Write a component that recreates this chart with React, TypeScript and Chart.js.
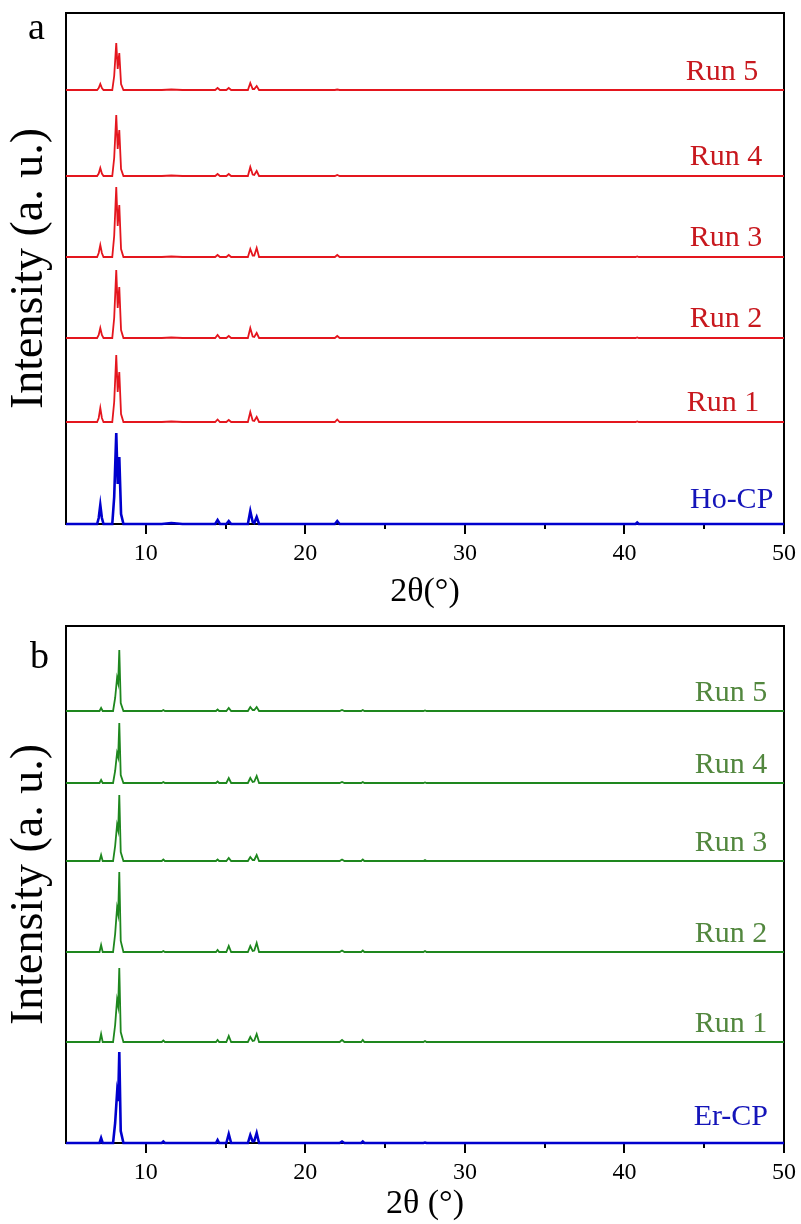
import React, { useEffect, useRef } from "react";
import { Chart, registerables } from "chart.js";

Chart.register(...registerables);

const FONT = "'Liberation Serif', 'Times New Roman', serif";

// x-axis ticks (2θ, degrees)
const xMajorTicks = [10, 20, 30, 40, 50];
const xMinorTicks = [15, 25, 35, 45];

// ---------- Panel a (Ho-CP) ----------
const thetaA = [5, 6.95, 7.05, 7.15, 7.25, 7.35, 7.9, 8.02, 8.15, 8.24, 8.34, 8.45, 8.6, 11.0, 11.6, 12.3, 14.35, 14.5, 14.65, 15.05, 15.2, 15.35, 16.4, 16.55, 16.7, 16.8, 16.95, 17.1, 21.85, 22.0, 22.15, 40.7, 40.8, 40.9, 50];
const hoCP = [0, 0, 6, 19, 6, 0, 0, 27, 91, 40, 67, 10, 0, 0, 1, 0, 0, 4, 0, 0, 3, 0, 0, 13, 2, 1, 7, 0, 0, 3, 0, 0, 1.5, 0, 0];
const hoRun1 = [0, 0, 4, 14, 4, 0, 0, 20, 67, 30, 50, 8, 0, 0, 0.5, 0, 0, 2.5, 0, 0, 2, 0, 0, 10, 1.5, 1, 5, 0, 0, 2.5, 0, 0, 0.5, 0, 0];
const hoRun2 = [0, 0, 3, 10, 3, 0, 0, 20, 68, 30, 51, 8, 0, 0, 0.5, 0, 0, 3, 0, 0, 2, 0, 0, 10, 1.5, 1, 5, 0, 0, 2, 0, 0, 0.5, 0, 0];
const hoRun3 = [0, 0, 4, 12, 4, 0, 0, 21, 70, 31, 52, 8, 0, 0, 0.5, 0, 0, 2, 0, 0, 2, 0, 0, 8, 1.5, 1.5, 9, 0, 0, 2, 0, 0, 0.5, 0, 0];
const hoRun4 = [0, 0, 2.5, 8, 2.5, 0, 0, 18, 61, 27, 46, 7, 0, 0, 0.5, 0, 0, 2, 0, 0, 2, 0, 0, 9, 1.5, 1, 5, 0, 0, 1, 0, 0, 0, 0, 0];
const hoRun5 = [0, 0, 2, 6, 2, 0, 0, 14, 47, 21, 37, 6, 0, 0, 0.5, 0, 0, 2, 0, 0, 2, 0, 0, 7, 1, 1, 4, 0, 0, 0.5, 0, 0, 0, 0, 0];
const seriesNamesA = ["Ho-CP", "Run 1", "Run 2", "Run 3", "Run 4", "Run 5"];
const stackOffsetsA = [0, 102, 186, 267, 348, 434];
const yMaxA = 511;

// ---------- Panel b (Er-CP) ----------
const thetaB = [5, 7.1, 7.2, 7.3, 7.95, 8.08, 8.2, 8.27, 8.34, 8.43, 8.6, 11.0, 11.1, 11.2, 14.4, 14.5, 14.6, 15.05, 15.2, 15.35, 16.4, 16.55, 16.7, 16.8, 16.95, 17.1, 22.15, 22.3, 22.45, 23.5, 23.6, 23.7, 27.4, 27.5, 27.6, 50];
const erCP = [0, 0, 5, 0, 0, 20, 50, 42, 91, 12, 0, 0, 1.5, 0, 0, 3, 0, 0, 9, 0, 0, 8, 1.5, 2, 10, 0, 0, 1.5, 0, 0, 1.5, 0, 0, 0.5, 0, 0];
const erRun1 = [0, 0, 8, 0, 0, 17, 42, 36, 74, 10, 0, 0, 1.5, 0, 0, 2, 0, 0, 6, 0, 0, 5, 1, 1.5, 8, 0, 0, 2, 0, 0, 2, 0, 0, 1, 0, 0];
const erRun2 = [0, 0, 7, 0, 0, 18, 44, 38, 80, 11, 0, 0, 1, 0, 0, 2, 0, 0, 6, 0, 0, 6, 1, 1.5, 9, 0, 0, 1.5, 0, 0, 1.5, 0, 0, 1, 0, 0];
const erRun3 = [0, 0, 6, 0, 0, 15, 36, 31, 66, 9, 0, 0, 1.5, 0, 0, 1.5, 0, 0, 3, 0, 0, 4, 1, 1, 6, 0, 0, 1.5, 0, 0, 1.5, 0, 0, 1, 0, 0];
const erRun4 = [0, 0, 3, 0, 0, 12, 30, 26, 60, 8, 0, 0, 1, 0, 0, 1.5, 0, 0, 5, 0, 0, 5, 1, 1.5, 7, 0, 0, 1, 0, 0, 1, 0, 0, 0.5, 0, 0];
const erRun5 = [0, 0, 3, 0, 0, 13, 33, 28, 61, 8, 0, 0, 1, 0, 0, 1.5, 0, 0, 3, 0, 0, 4, 1, 1, 4, 0, 0, 1, 0, 0, 1, 0, 0, 0.5, 0, 0];
const seriesNamesB = ["Er-CP", "Run 1", "Run 2", "Run 3", "Run 4", "Run 5"];
const stackOffsetsB = [0, 101, 191, 282, 360, 432];
const yMaxB = 517;

const RED_LINE = "rgb(228, 22, 30)";
const RED_TEXT = "rgb(200, 24, 30)";
const BLUE_LINE = "rgb(0, 0, 205)";
const BLUE_TEXT = "rgb(20, 20, 185)";
const GREEN_LINE = "rgb(30, 135, 30)";
const GREEN_TEXT = "rgb(82, 135, 62)";

const framePlugin = {
  id: "xrdFrame",
  beforeDatasetsDraw(chart: any) {
    const { ctx, chartArea: ca, scales } = chart;
    const xs = scales.x;
    ctx.save();
    ctx.strokeStyle = "#000";
    ctx.lineWidth = 2;
    ctx.strokeRect(ca.left, ca.top, ca.right - ca.left, ca.bottom - ca.top);
    ctx.beginPath();
    for (const t of xMajorTicks) {
      const px = Math.round(xs.getPixelForValue(t));
      ctx.moveTo(px, ca.bottom);
      ctx.lineTo(px, ca.bottom + 10);
    }
    for (const t of xMinorTicks) {
      const px = Math.round(xs.getPixelForValue(t));
      ctx.moveTo(px, ca.bottom);
      ctx.lineTo(px, ca.bottom + 5);
    }
    ctx.stroke();
    ctx.restore();
  },
  afterDatasetsDraw(chart: any, _args: any, opts: any) {
    const { ctx, scales } = chart;
    const xs = scales.x;
    const ys = scales.y;
    ctx.save();
    ctx.font = `30px ${FONT}`;
    ctx.textAlign = "right";
    ctx.textBaseline = "alphabetic";
    chart.data.datasets.forEach((ds: any, i: number) => {
      const lab = opts.labels[i];
      ctx.fillStyle = lab.color;
      ctx.fillText(ds.label, xs.getPixelForValue(lab.x), ys.getPixelForValue(opts.offsets[i]) - lab.gap);
    });
    ctx.font = `38px ${FONT}`;
    ctx.textAlign = "left";
    ctx.fillStyle = "#000";
    ctx.fillText(opts.letter, opts.letterX, opts.letterY);
    ctx.restore();
  },
};

type PanelCfg = {
  theta: number[];
  series: number[][];
  names: string[];
  offsets: number[];
  yMax: number;
  colors: string[];
  widths: number[];
  labels: { x: number; gap: number; color: string }[];
  letter: string;
  letterX: number;
  letterY: number;
  padTop: number;
  xAxisHeight: number;
  xTitle: string;
};

function Panel({ cfg, top }: { cfg: PanelCfg; top: number }) {
  const ref = useRef<HTMLCanvasElement>(null);
  useEffect(() => {
    const datasets = cfg.series.map((vals, i) => ({
      label: cfg.names[i],
      data: vals.map((v, j) => ({ x: cfg.theta[j], y: v + cfg.offsets[i] })),
      borderColor: cfg.colors[i],
      backgroundColor: cfg.colors[i],
      borderWidth: cfg.widths[i],
      pointRadius: 0,
      tension: 0,
      fill: false,
      clip: 6,
    }));
    const chart = new Chart(ref.current as HTMLCanvasElement, {
      type: "line",
      data: { datasets },
      plugins: [framePlugin],
      options: {
        animation: false,
        responsive: false,
        devicePixelRatio: 1,
        layout: { padding: { top: cfg.padTop, right: 17, left: 0, bottom: 0 } },
        plugins: {
          legend: { display: false },
          tooltip: { enabled: false },
          xrdFrame: {
            labels: cfg.labels,
            offsets: cfg.offsets,
            letter: cfg.letter,
            letterX: cfg.letterX,
            letterY: cfg.letterY,
          },
        } as any,
        scales: {
          x: {
            type: "linear",
            min: 5,
            max: 50,
            afterBuildTicks: (s: any) => {
              s.ticks = xMajorTicks.map((v) => ({ value: v }));
            },
            afterFit: (s: any) => {
              s.height = cfg.xAxisHeight;
            },
            grid: { display: false, drawTicks: true, tickLength: 10 },
            border: { display: false },
            ticks: {
              color: "#000",
              font: { family: FONT, size: 24 },
              padding: 5,
              maxRotation: 0,
              autoSkip: false,
            },
            title: {
              display: true,
              text: cfg.xTitle,
              color: "#000",
              font: { family: FONT, size: 34 },
              padding: 0,
            },
          },
          y: {
            type: "linear",
            min: 0,
            max: cfg.yMax,
            afterFit: (s: any) => {
              s.width = 66;
            },
            ticks: { display: false },
            grid: { display: false },
            border: { display: false },
            title: {
              display: true,
              text: "Intensity (a. u.)",
              color: "#000",
              font: { family: FONT, size: 46 },
              padding: { top: 2, bottom: 0 },
            },
          },
        },
      } as any,
    });
    return () => chart.destroy();
  }, []);
  return (
    <canvas
      ref={ref}
      width={801}
      height={612}
      style={{ position: "absolute", left: 0, top, width: 801, height: 612, display: "block" }}
    />
  );
}

const panelA: PanelCfg = {
  theta: thetaA,
  series: [hoCP, hoRun1, hoRun2, hoRun3, hoRun4, hoRun5],
  names: seriesNamesA,
  offsets: stackOffsetsA,
  yMax: yMaxA,
  colors: [BLUE_LINE, RED_LINE, RED_LINE, RED_LINE, RED_LINE, RED_LINE],
  widths: [2.6, 1.8, 1.8, 1.8, 1.8, 1.8],
  labels: [
    { x: 49.33, gap: 16, color: BLUE_TEXT },
    { x: 48.45, gap: 11, color: RED_TEXT },
    { x: 48.64, gap: 11, color: RED_TEXT },
    { x: 48.64, gap: 11, color: RED_TEXT },
    { x: 48.64, gap: 11, color: RED_TEXT },
    { x: 48.38, gap: 10, color: RED_TEXT },
  ],
  letter: "a",
  letterX: 28,
  letterY: 39,
  padTop: 13,
  xAxisHeight: 88,
  xTitle: "2θ(°)",
};

const panelB: PanelCfg = {
  theta: thetaB,
  series: [erCP, erRun1, erRun2, erRun3, erRun4, erRun5],
  names: seriesNamesB,
  offsets: stackOffsetsB,
  yMax: yMaxB,
  colors: [BLUE_LINE, GREEN_LINE, GREEN_LINE, GREEN_LINE, GREEN_LINE, GREEN_LINE],
  widths: [2.6, 1.8, 1.8, 1.8, 1.8, 1.8],
  labels: [
    { x: 49.0, gap: 18, color: BLUE_TEXT },
    { x: 48.95, gap: 10, color: GREEN_TEXT },
    { x: 48.95, gap: 10, color: GREEN_TEXT },
    { x: 48.95, gap: 10, color: GREEN_TEXT },
    { x: 48.95, gap: 10, color: GREEN_TEXT },
    { x: 48.95, gap: 10, color: GREEN_TEXT },
  ],
  letter: "b",
  letterX: 30,
  letterY: 56,
  padTop: 14,
  xAxisHeight: 81,
  xTitle: "2θ (°)",
};

export default function App() {
  return (
    <div style={{ position: "absolute", left: 0, top: 0, width: 801, height: 1224, background: "#fff" }}>
      <Panel cfg={panelA} top={0} />
      <Panel cfg={panelB} top={612} />
    </div>
  );
}
